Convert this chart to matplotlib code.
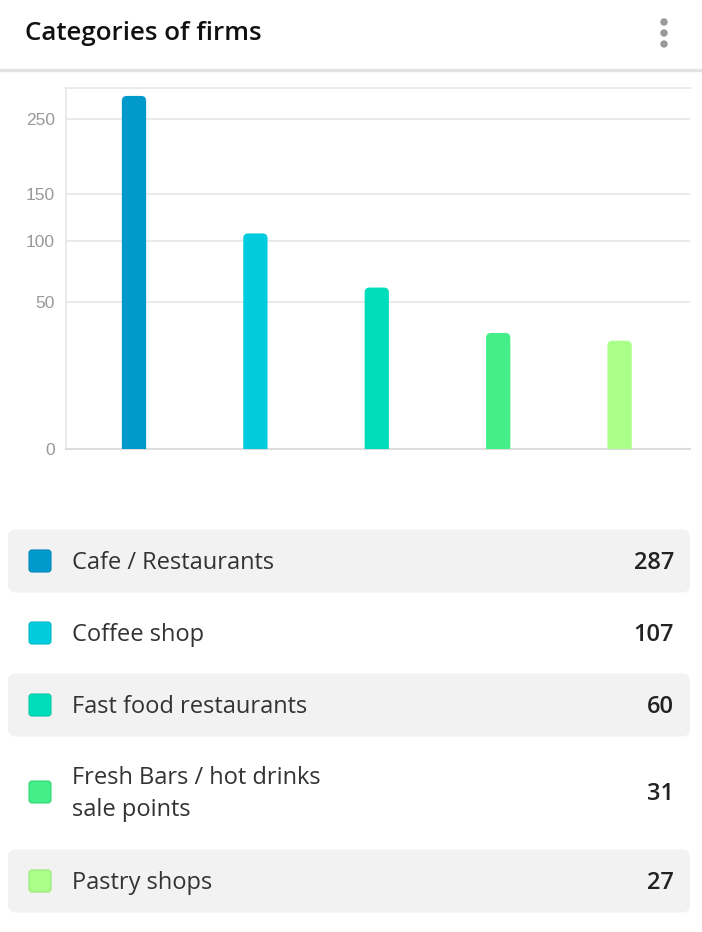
import matplotlib.pyplot as plt
from matplotlib.patches import FancyBboxPatch, Circle, Rectangle
from matplotlib.transforms import IdentityTransform, Bbox

categories = ["Cafe / Restaurants", "Coffee shop", "Fast food restaurants",
              "Fresh Bars / hot drinks\nsale points", "Pastry shops"]
counts = [287, 107, 60, 31, 27]
colors = ["#0099cc", "#00ccdd", "#00ddbb", "#44ee88", "#aaff88"]
edge_colors = ["#0088b8", "#00b8c8", "#00c8a8", "#38d878", "#98e878"]
yticks = [0, 50, 100, 150, 250]

W, H = 702, 932
fig = plt.figure(figsize=(W / 100, H / 100), dpi=100)
px = IdentityTransform()


def top(y):
    # pixel y measured from the top edge
    return H - y


# header
fig.text(25, top(33), "Categories of firms", transform=px, fontsize=18.6,
         family="Open Sans", weight="semibold", color="#111111", va="center")
for yy in (22, 33, 44):
    fig.patches.append(Circle((664, top(yy)), 3, transform=px,
                              color="#999999"))
fig.patches.append(Rectangle((0, top(71)), W, 2, transform=px,
                             color="#e3e3e3"))

# bar chart on a square-root scale
ax = fig.add_axes([66 / W, 1 - 449 / H, 624 / W, 361 / H])
ax.set_yscale("function", functions=(lambda v: v ** 0.5, lambda v: v ** 2))
x = list(range(len(counts)))
bars = ax.bar(x, counts, width=0.2, color=colors)
ax.set_xlim(-0.56, 4.58)
ax.set_ylim(0, 300)
ax.set_yticks(yticks)
ax.set_yticklabels([str(t) for t in yticks], family="Liberation Sans",
                   fontsize=12.5, color="#999999")
ax.tick_params(axis="y", length=0, pad=8)
ax.set_xticks([])
ax.grid(axis="y", color="#e6e6e6", linewidth=1.2)
ax.set_axisbelow(True)
for side in ("left", "top"):
    ax.spines[side].set_color("#e6e6e6")
    ax.spines[side].set_linewidth(1.2)
ax.spines["bottom"].set_color("#dddddd")
ax.spines["bottom"].set_linewidth(1.5)
ax.spines["right"].set_visible(False)

# swap the square bars for ones with rounded tops
fig.canvas.draw()
renderer = fig.canvas.get_renderer()
clip = Bbox.from_extents(0, top(449), W, H)
for bar, c in zip(bars, colors):
    bb = bar.get_window_extent(renderer)
    bar.set_visible(False)
    p = FancyBboxPatch((bb.x0, bb.y0 - 8), bb.width, bb.height + 8,
                       boxstyle="round,pad=0,rounding_size=5",
                       transform=px, facecolor=c, edgecolor="none")
    p.set_clip_box(clip)
    fig.patches.append(p)

# legend table
row_centers = [561, 633, 705, 792, 881]
shaded = [True, False, True, False, True]
for i, (label, val) in enumerate(zip(categories, counts)):
    cy = row_centers[i]
    if shaded[i]:
        fig.patches.append(FancyBboxPatch(
            (8, top(cy + 31.5)), 682, 63,
            boxstyle="round,pad=0,rounding_size=8", transform=px,
            facecolor="#f2f2f2", edgecolor="none"))
    fig.patches.append(FancyBboxPatch(
        (29, top(cy + 11)), 22, 22,
        boxstyle="round,pad=0,rounding_size=3", transform=px,
        facecolor=colors[i], edgecolor=edge_colors[i], linewidth=0.8))
    fig.text(72, top(cy + 2), label, transform=px, fontsize=17,
             family="Open Sans", color="#333333", va="center",
             linespacing=1.45)
    fig.text(674, top(cy + 2), str(val), transform=px, fontsize=17,
             family="Open Sans", weight="semibold", color="#222222",
             va="center", ha="right")

fig.savefig("out.png", dpi=100)
